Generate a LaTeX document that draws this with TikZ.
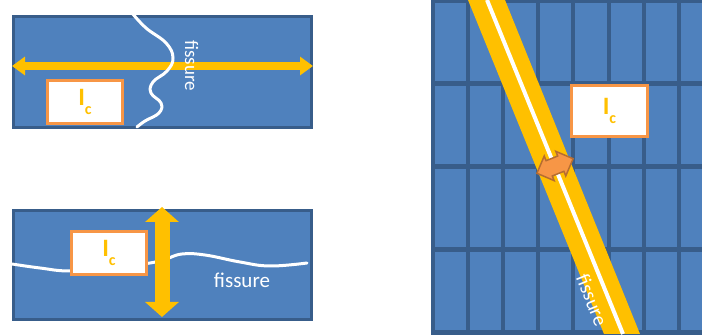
\documentclass[tikz,border=0pt]{standalone}
\usepackage{fontspec}
\setmainfont{Carlito}
\usepackage{tikz}
\usetikzlibrary{shapes.arrows}
\usetikzlibrary{arrows.meta}

\definecolor{panelblue}{HTML}{4F81BD}
\definecolor{paneldark}{HTML}{385D8A}
\definecolor{bandyellow}{HTML}{FFC000}
\definecolor{boxorange}{HTML}{F79646}
\definecolor{arroworange}{HTML}{B66D31}

\newcommand{\Ic}{\textbf{I\raisebox{-0.34em}{\fontsize{16}{16}\selectfont c}}}

\begin{document}
\begin{tikzpicture}[x=1pt, y=-1pt,
		panel/.style={rectangle, fill=panelblue, draw=paneldark, line width=3pt, inner sep=0pt},
		icbox/.style={rectangle, fill=white, draw=boxorange, line width=3pt, minimum width=75pt, minimum height=43pt, inner sep=0pt, text=bandyellow, font=\fontsize{25}{25}\selectfont},
		crack/.style={white, line width=3pt, line cap=round},
		fistext/.style={text=white, inner sep=0pt, font=\fontsize{19}{19}\selectfont}]
			\useasboundingbox (0, 0) rectangle (702, 336);
			% plate cut along the fissure
			\node at (162.5, 72) [panel, minimum width=298pt, minimum height=111pt] (panel1) {};
			\coordinate (a1) at (12, 66);
			\coordinate (b1) at (313, 66);
			\draw [{Triangle[length=13pt, width=18pt]}-{Triangle[length=13pt, width=18pt]}, bandyellow, line width=8pt](a1) -- (b1);
			\draw [crack] plot [smooth, tension=0.7] coordinates {(132, 13) (146, 28) (166, 43) (173, 58) (167, 71) (153, 82) (151, 93) (161, 103) (159, 113) (145, 121) (137, 127)};
			\node at (191.5, 65.5) [fistext, rotate=-90] (text1) {fissure};
			\node at (85, 102) [icbox] (box1) {\Ic};
			% plate cut across the fissure
			\node at (162.5, 265) [panel, minimum width=298pt, minimum height=109pt] (panel2) {};
			\draw [crack] plot [smooth, tension=0.7] coordinates {(12, 264) (40, 268) (70, 271) (110, 268) (150, 263) (166, 259) (182, 254) (205, 255) (240, 262) (270, 266) (307, 263)};
			\node at (109, 253) [icbox] (box2) {\Ic};
			\coordinate (a2) at (162, 207);
			\coordinate (b2) at (162, 317);
			\draw [{Triangle[length=15pt, width=33pt]}-{Triangle[length=15pt, width=33pt]}, bandyellow, line width=15pt](a2) -- (b2);
			\node at (242, 280) [fistext, font=\fontsize{21}{21}\selectfont] (text2) {fissure};
			% bricks with a slanted fissure
			\begin{scope}
				\clip (0, 0) rectangle (702, 336);
				\fill [paneldark] (431, 0) rectangle (702, 335.5);
				\foreach \i in {0,...,7}
					\foreach \j in {0,...,3}
						\fill [panelblue] ({434.5 + 35.2*\i}, {3.5 + 83*\j}) rectangle ({465.7 + 35.2*\i}, {81.5 + 83*\j});
				\fill [bandyellow] (468, 0) -- (505, 0) -- (640, 334) -- (604, 334) -- cycle;
				\draw [crack, line width=4pt, line cap=butt] (487, 0) -- (623, 334);
			\end{scope}
			\node at (609.5, 111) [icbox, minimum width=76pt, minimum height=51pt] (box3) {\Ic};
			\node at (555, 166) [double arrow, rotate=22, fill=boxorange, draw=arroworange, line width=1.5pt, minimum height=39pt, inner sep=7.5pt, double arrow head extend=5pt] (arrow3) {};
			\node at (592, 300) [fistext, font=\fontsize{20}{20}\selectfont, rotate=-68] (text3) {fissure};
		\end{tikzpicture}
\end{document}
